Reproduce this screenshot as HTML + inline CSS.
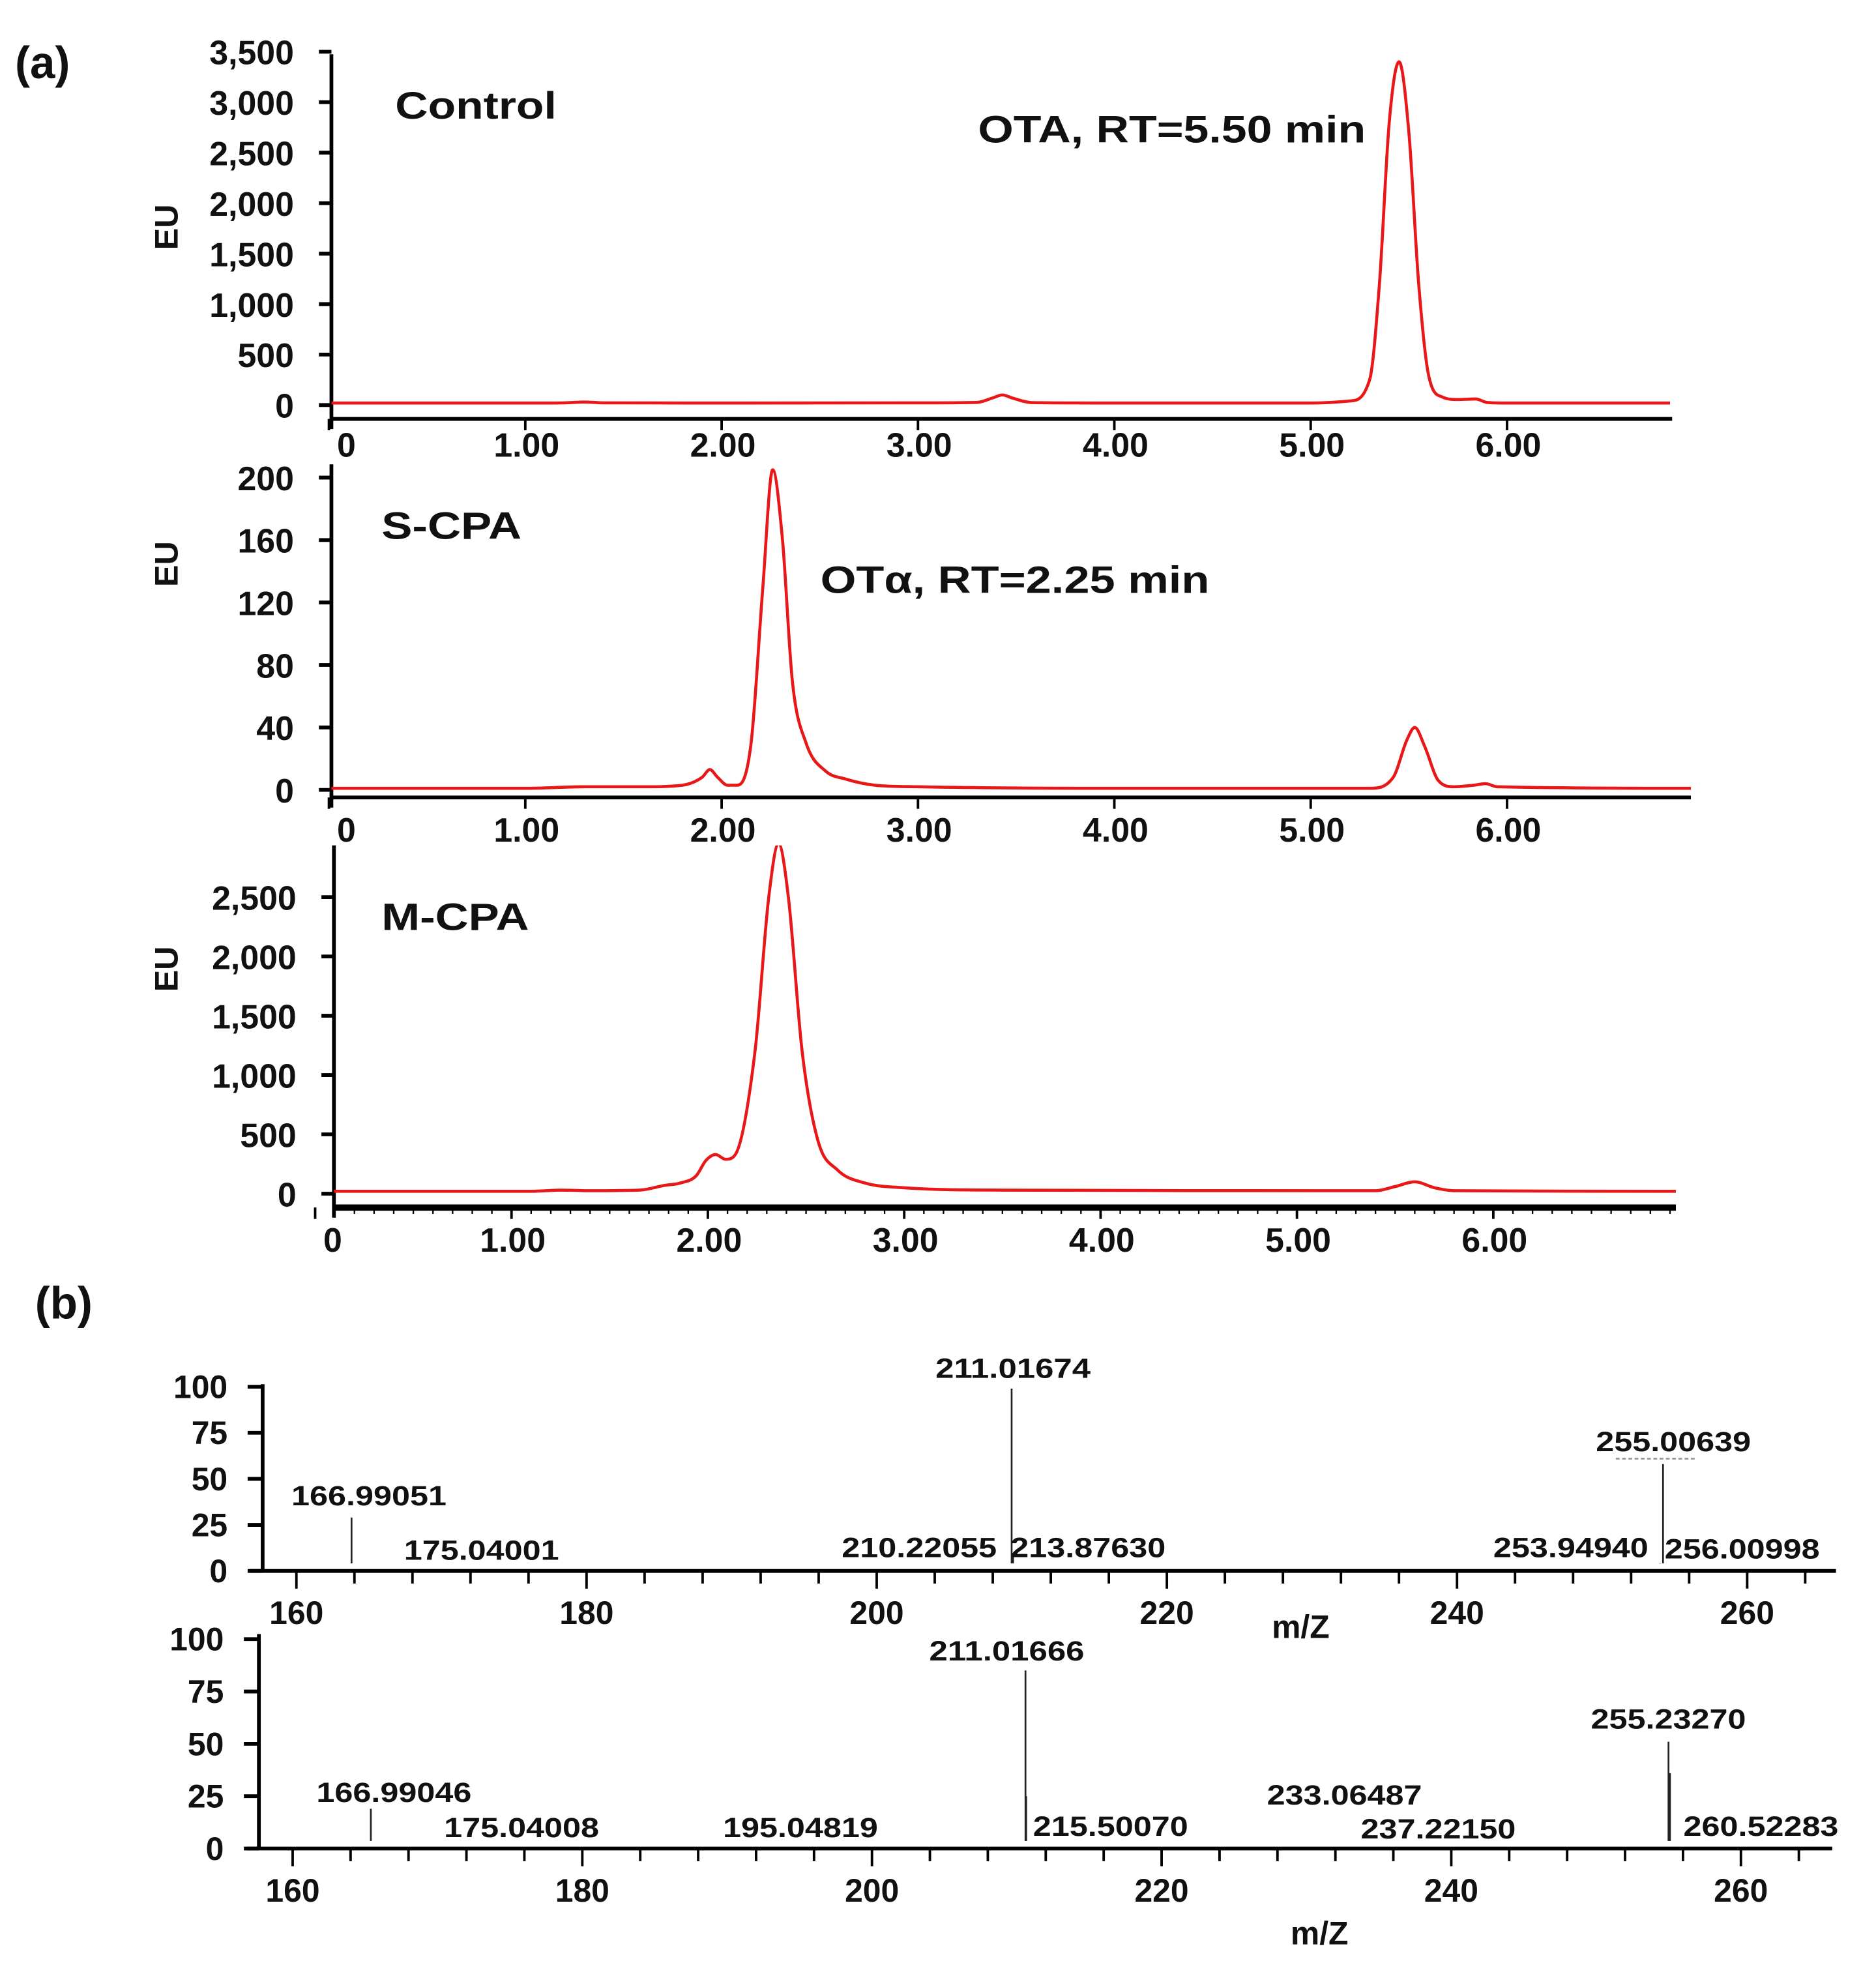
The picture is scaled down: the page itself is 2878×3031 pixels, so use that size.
<!DOCTYPE html>
<html><head><meta charset="utf-8">
<style>
html,body{margin:0;padding:0;background:#fff;}
svg{display:block;}
text{font-family:"Liberation Sans",Arial,sans-serif;font-weight:bold;fill:#111;}
</style></head>
<body>
<svg id="fig" xmlns="http://www.w3.org/2000/svg" width="2878" height="3031" viewBox="0 0 1500 1566" preserveAspectRatio="none">
<rect width="1500" height="1566" fill="#fff"/>
<text x="12" y="62" font-size="36">(a)</text>
<text x="28" y="1045" font-size="36">(b)</text>
<g id="root"></g>
</svg>
<script>
// ---------- Data ----------
const timeTicks = [0,1,2,3,4,5,6];
const timeTickLabels = ["0","1.00","2.00","3.00","4.00","5.00","6.00"];

const controlTimes = [0,1.0,1.2,1.3,1.4,2.0,3.0,3.3,3.38,3.43,3.48,3.58,4.0,5.0,5.2,5.3,5.35,5.4,5.45,5.5,5.55,5.6,5.67,5.75,5.84,5.9,6.0,6.83];
const controlEU    = [20,20,22,30,22,20,22,26,70,100,70,24,20,20,40,250,1200,2800,3400,2700,1200,300,80,55,60,25,20,20];
const controlTicks = [0,500,1000,1500,2000,2500,3000,3500];
const controlTickLabels = ["0","500","1,000","1,500","2,000","2,500","3,000","3,500"];

const scpaTimes = [0,1.0,1.3,1.6,1.8,1.9,1.94,1.98,2.03,2.08,2.15,2.21,2.26,2.31,2.36,2.43,2.53,2.63,2.78,3.0,4.0,5.3,5.42,5.49,5.53,5.58,5.65,5.73,5.83,5.89,5.95,6.94];
const scpaEU    = [1,1,2,2,3,8,13,8,3,3,30,130,205,160,70,30,12,7,3,2,1,1,8,32,40,28,6,2,3,4,2,1];
const scpaTicks = [0,40,80,120,160,200];
const scpaTickLabels = ["0","40","80","120","160","200"];

const mcpaTimes = [0,1.1,1.25,1.4,1.65,1.78,1.86,1.94,1.99,2.04,2.09,2.14,2.24,2.31,2.36,2.41,2.48,2.56,2.66,2.8,3.0,3.5,5.4,5.5,5.6,5.7,5.8,6.93];
const mcpaEU    = [20,20,30,25,30,70,90,150,280,330,290,330,1200,2500,2950,2500,1200,450,200,90,50,30,25,60,100,50,25,20];
const mcpaTicks = [0,500,1000,1500,2000,2500];
const mcpaTickLabels = ["0","500","1,000","1,500","2,000","2,500"];

const mzTicks = [160,180,200,220,240,260];
const mzTickLabels = ["160","180","200","220","240","260"];
const relTicks = [0,25,50,75,100];
const relTickLabels = ["0","25","50","75","100"];

const ms1Mz  = [163.8,209.3,209.4,254.0,254.2];
const ms1Int = [29,99,8,4,58];
const ms1Labels = ["166.99051","175.04001","211.01674","210.22055","213.87630","255.00639","253.94940","256.00998"];

const ms2Mz  = [165.4,210.6,210.65,255.0,255.1];
const ms2Int = [19,85,25,51,36];
const ms2Labels = ["166.99046","175.04008","195.04819","211.01666","215.50070","233.06487","237.22150","255.23270","260.52283"];

// ---------- helpers ----------
const NS="http://www.w3.org/2000/svg";
const root=document.getElementById('root');
function el(tag,attrs,parent){const e=document.createElementNS(NS,tag);for(const k in attrs)e.setAttribute(k,attrs[k]);(parent||root).appendChild(e);return e;}
function txt(s,x,y,size,anchor,parent,extra){const t=el('text',Object.assign({x:x,y:y,'font-size':size,'text-anchor':anchor||'start'},extra||{}),parent);t.textContent=s;return t;}
function monoPath(pts){
  const n=pts.length,dx=[],m=[],t=[];
  for(let i=0;i<n-1;i++){dx[i]=pts[i+1][0]-pts[i][0];m[i]=(pts[i+1][1]-pts[i][1])/dx[i];}
  t[0]=m[0];t[n-1]=m[n-2];
  for(let i=1;i<n-1;i++){t[i]=(m[i-1]*m[i]<=0)?0:(m[i-1]+m[i])/2;}
  for(let i=0;i<n-1;i++){
    if(m[i]===0){t[i]=0;t[i+1]=0;continue;}
    const a=t[i]/m[i],b=t[i+1]/m[i],s=a*a+b*b;
    if(s>9){const k=3/Math.sqrt(s);t[i]=k*a*m[i];t[i+1]=k*b*m[i];}
  }
  let d="M"+pts[0][0].toFixed(2)+","+pts[0][1].toFixed(2);
  for(let i=0;i<n-1;i++){
    const h=dx[i]/3;
    d+=" C"+(pts[i][0]+h).toFixed(2)+","+(pts[i][1]+t[i]*h).toFixed(2)+" "+(pts[i+1][0]-h).toFixed(2)+","+(pts[i+1][1]-t[i+1]*h).toFixed(2)+" "+pts[i+1][0].toFixed(2)+","+pts[i+1][1].toFixed(2);
  }
  return d;
}

function chrom(cfg){
  const g=el('g',{});
  
  
  const X=t=>cfg.x0+cfg.kx*t, Y=v=>cfg.y0-cfg.ky*v;
  const cid=cfg.name+"-clip";
  const cp=el('clipPath',{id:cid},g);
  el('rect',{x:cfg.axX,y:cfg.top,width:cfg.axEnd-cfg.axX,height:cfg.axY-cfg.top},cp);
  const ya=el('line',{x1:cfg.axX,y1:cfg.top,x2:cfg.axX,y2:cfg.axY+8,stroke:'#000','stroke-width':3},g);
  
  
  const xa=el('line',{x1:cfg.axX,y1:cfg.axY,x2:cfg.axEnd,y2:cfg.axY,stroke:'#000','stroke-width':cfg.xw||3},g);
  
  
  cfg.yTicks.forEach((v,i)=>{
    const y=Y(v);
    const tk=el('line',{x1:cfg.axX-10,y1:y,x2:cfg.axX,y2:y,stroke:'#000','stroke-width':3},g);
    
    
    const tl=txt(cfg.yLabels[i],cfg.axX-30,y+10,27,'end',g);
    
    
  });
  if(cfg.minor){
    for(let t=0;t<=6.9;t+=0.1){const x=X(t);el('line',{x1:x,y1:cfg.axY,x2:x,y2:cfg.axY+5,stroke:'#000','stroke-width':1.2},g);}
  }
  timeTicks.forEach((t,i)=>{
    const x=X(t);
    const tk=el('line',{x1:x,y1:cfg.axY,x2:x,y2:cfg.axY+9,stroke:'#000','stroke-width':2},g);
    
    
    const tl=txt(timeTickLabels[i],i===0?x+14:x+1,cfg.axY+cfg.lblDy,27,'middle',g);
    
    
  });
  const yt=txt('EU',0,0,26,'middle',g,{transform:`translate(${cfg.euX},${cfg.euY}) rotate(-90)`});
  
  
  const pts=cfg.times.map((t,i)=>[X(t),Y(cfg.vals[i])]);
  const p=el('path',{d:monoPath(pts),fill:'none',stroke:'#e81818','stroke-width':2.4,'clip-path':`url(#${cid})`},g);
  
  
  return g;
}
const LA={lengthAdjust:'spacingAndGlyphs'};
const g1=chrom({name:'control-chromatogram',x0:263,kx:157,y0:321,ky:280/3500,axX:265,axY:332,axEnd:1337,top:43,lblDy:30,
  yTicks:controlTicks,yLabels:controlTickLabels,times:controlTimes,vals:controlEU,euX:142,euY:180});
let t=txt('Control',316,94,30,'start',g1,Object.assign({textLength:129},LA));

t=txt('OTA, RT=5.50 min',782,113,30,'start',g1,Object.assign({textLength:310},LA));


const g2=chrom({name:'s-cpa-chromatogram',x0:263,kx:157,y0:626,ky:49.5/40,axX:265,axY:632,axEnd:1352,top:368,lblDy:35,
  yTicks:scpaTicks,yLabels:scpaTickLabels,times:scpaTimes,vals:scpaEU,euX:142,euY:447});
t=txt('S-CPA',305,427,30,'start',g2,Object.assign({textLength:112},LA));

t=txt('OTα, RT=2.25 min',656,470,30,'start',g2,Object.assign({textLength:311},LA));


const g3=chrom({name:'m-cpa-chromatogram',x0:252,kx:157,y0:946,ky:47/500,axX:267,axY:957,axEnd:1340,top:670,lblDy:35,minor:true,xw:5,
  yTicks:mcpaTicks,yLabels:mcpaTickLabels,times:mcpaTimes,vals:mcpaEU,euX:142,euY:768});
t=txt('M-CPA',305,737,30,'start',g3,Object.assign({textLength:118},LA));


function ms(cfg){
  const g=el('g',{});
  
  
  const X=m=>cfg.x0+cfg.kx*(m-160), Y=v=>cfg.y0-cfg.ky*v;
  const ya=el('line',{x1:cfg.axX,y1:cfg.top,x2:cfg.axX,y2:cfg.y0,stroke:'#000','stroke-width':3},g);
  
  const xa=el('line',{x1:cfg.axX-10,y1:cfg.y0,x2:cfg.axEnd,y2:cfg.y0,stroke:'#000','stroke-width':3},g);
  
  relTicks.forEach((v,i)=>{
    const y=Y(v);
    const tk=el('line',{x1:cfg.axX-12,y1:y,x2:cfg.axX,y2:y,stroke:'#000','stroke-width':3},g);
    
    const tl=txt(relTickLabels[i],cfg.axX-28,y+9,26,'end',g);
    
  });
  for(let m=160;m<=264;m+=4){
    const x=X(m);
    el('line',{x1:x,y1:cfg.y0,x2:x,y2:cfg.y0+(m%20===0?14:10),stroke:'#000','stroke-width':2},g);
  }
  mzTicks.forEach((m,i)=>{
    const tl=txt(mzTickLabels[i],X(m),cfg.y0+42,26,'middle',g);
    
  });
  const xt=txt('m/Z',cfg.mzX,cfg.mzY,26,'middle',g);
  
  cfg.mz.forEach((m,i)=>{
    const l=el('line',{x1:X(m),y1:cfg.y0-6,x2:X(m),y2:Y(cfg.ints[i]),stroke:'#222','stroke-width':1.4},g);
    
  });
  cfg.labels.forEach((s,i)=>{
    const tl=txt(s,cfg.lx[i],cfg.ly[i],22,'middle',g,{textLength:124,lengthAdjust:'spacingAndGlyphs'});
    
  });
  return g;
}
const m1=ms({name:'ms-spectrum-1',x0:237,kx:11.6,y0:1245,ky:1.46,axX:210,axEnd:1468,top:1097,mzX:1040,mzY:1298,
  mz:ms1Mz,ints:ms1Int,labels:ms1Labels,
  lx:[295,385,810,735,870,1338,1256,1393],ly:[1193,1236,1092,1234,1234,1150,1234,1235]});
el('line',{x1:1292,y1:1156,x2:1355,y2:1156,stroke:'#999','stroke-width':1.5,'stroke-dasharray':'3,2'},m1);
ms({name:'ms-spectrum-2',x0:234,kx:11.58,y0:1465,ky:1.66,axX:207,axEnd:1465,top:1295,mzX:1055,mzY:1541,
  mz:ms2Mz,ints:ms2Int,labels:ms2Labels,
  lx:[315,417,640,805,888,1075,1150,1334,1408],ly:[1428,1456,1456,1316,1455,1430,1457,1370,1455]});
</script>
</body></html>
